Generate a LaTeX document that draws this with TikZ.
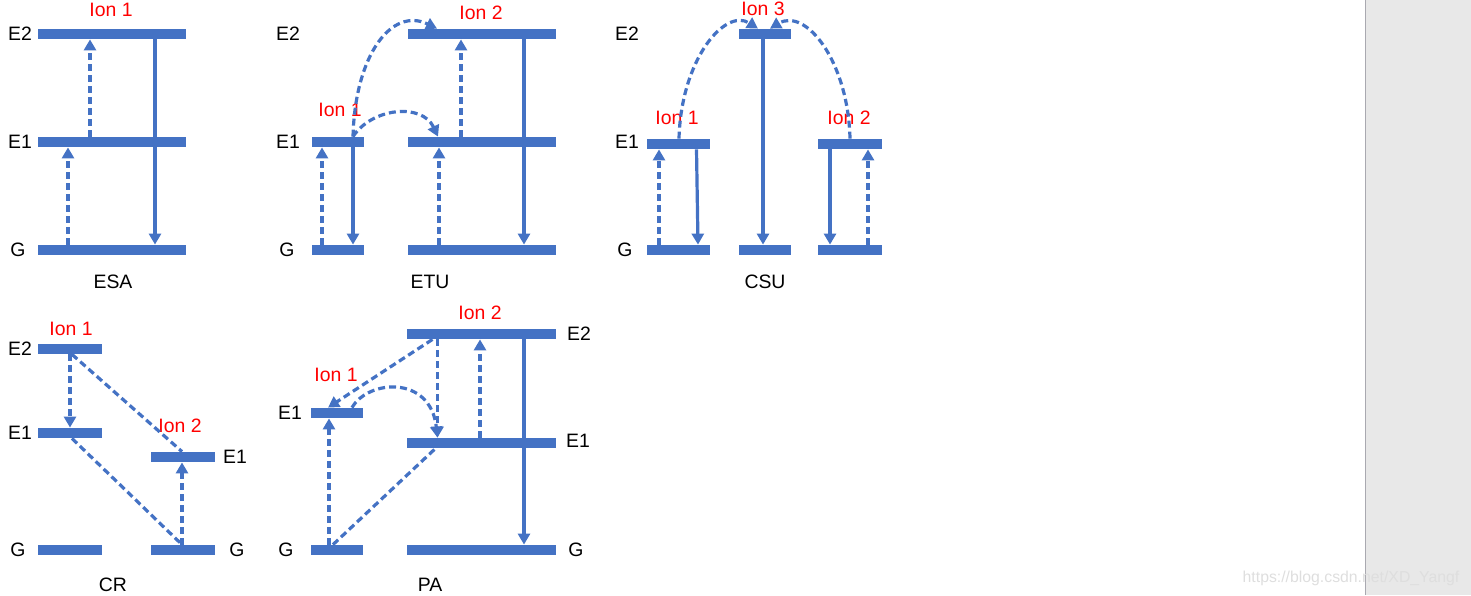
\documentclass[tikz,border=0pt]{standalone}
\usepackage{fontspec}
\setmainfont{Liberation Sans}
\usetikzlibrary{arrows.meta,calc}
\definecolor{lvl}{HTML}{4472C4}
\definecolor{ionred}{HTML}{FF0000}
\definecolor{side}{HTML}{E8E8E8}
\definecolor{sideline}{HTML}{A9A9B0}
\definecolor{wmark}{HTML}{DEDEDE}
\begin{document}
\begin{tikzpicture}[x=0.5pt,y=-0.5pt,
  lev/.style={fill=lvl, rectangle, inner sep=0pt, minimum height=5pt, minimum width=#1*0.5pt},
  lbl/.style={font=\fontsize{9.7pt}{11pt}\selectfont, inner sep=0pt},
  ion/.style={lbl, text=ionred},
  tip/.style={-{Triangle[width=6pt,length=5.5pt]}},
  exc/.style={draw=lvl, line width=1.6pt, dash pattern=on 3.5pt off 2pt, tip},
  dline/.style={draw=lvl, line width=1.6pt, dash pattern=on 3.5pt off 2pt},
  emit/.style={draw=lvl, line width=1.6pt, tip}]
\useasboundingbox (0,0) rectangle (1471,595);
% sidebar
\fill[side] (1365,0) rectangle (1471,595);
\draw[sideline, line width=0.6pt] (1365.5,0) -- (1365.5,595);
\node[lbl, font=\fontsize{7.9pt}{9pt}\selectfont, text=wmark] (wm) at (1351,578) {https://blog.csdn.net/XD\_Yangf};

% ---------------- levels ----------------
% ESA
\node[lev=148] (esaE2) at (112,34) {};
\node[lev=148] (esaE1) at (112,142) {};
\node[lev=148] (esaG) at (112,250) {};
% ETU
\node[lev=52] (etuE1a) at (338,142) {};
\node[lev=52] (etuGa) at (338,250) {};
\node[lev=148] (etuE2b) at (482,34) {};
\node[lev=148] (etuE1b) at (482,142) {};
\node[lev=148] (etuGb) at (482,250) {};
% CSU
\node[lev=63] (csuE1a) at (678.5,144) {};
\node[lev=63] (csuGa) at (678.5,250) {};
\node[lev=52] (csuE2c) at (765,34) {};
\node[lev=52] (csuGc) at (765,250) {};
\node[lev=64] (csuE1b) at (850,144) {};
\node[lev=64] (csuGb) at (850,250) {};
% CR
\node[lev=64] (crE2a) at (70,349) {};
\node[lev=64] (crE1a) at (70,433) {};
\node[lev=64] (crGa) at (70,550) {};
\node[lev=64] (crE1b) at (183,457) {};
\node[lev=64] (crGb) at (183,550) {};
% PA
\node[lev=52] (paE1a) at (337,413) {};
\node[lev=52] (paGa) at (337,550) {};
\node[lev=149] (paE2b) at (481.5,334) {};
\node[lev=149] (paE1b) at (481.5,443) {};
\node[lev=149] (paGb) at (481.5,550) {};

% ---------------- labels ----------------
\node[lbl] (tEsaE2) at (20,34) {E2};
\node[lbl] (tEsaE1) at (20,142) {E1};
\node[lbl] (tEsaG) at (18,250) {G};
\node[ion] (tEsaI1) at (111,10) {Ion 1};
\node[lbl] (tEsa) at (113,282) {ESA};

\node[lbl] (tEtuE2) at (288,34) {E2};
\node[lbl] (tEtuE1) at (288,142) {E1};
\node[lbl] (tEtuG) at (287,250) {G};
\node[ion] (tEtuI1) at (340,110) {Ion 1};
\node[ion] (tEtuI2) at (481,13) {Ion 2};
\node[lbl] (tEtu) at (430,282) {ETU};

\node[lbl] (tCsuE2) at (627,34) {E2};
\node[lbl] (tCsuE1) at (627,142) {E1};
\node[lbl] (tCsuG) at (625,250) {G};
\node[ion] (tCsuI1) at (677,118) {Ion 1};
\node[ion] (tCsuI2) at (849,118) {Ion 2};
\node[ion] (tCsuI3) at (763,9) {Ion 3};
\node[lbl] (tCsu) at (765,282) {CSU};

\node[lbl] (tCrE2) at (20,349) {E2};
\node[lbl] (tCrE1) at (20,433) {E1};
\node[lbl] (tCrG) at (18,550) {G};
\node[lbl] (tCrE1r) at (235,457) {E1};
\node[lbl] (tCrGr) at (237,550) {G};
\node[ion] (tCrI1) at (71,329) {Ion 1};
\node[ion] (tCrI2) at (180,426) {Ion 2};
\node[lbl] (tCr) at (113,585) {CR};

\node[lbl] (tPaE1) at (290,413) {E1};
\node[lbl] (tPaG) at (286,550) {G};
\node[lbl] (tPaE2r) at (579,334) {E2};
\node[lbl] (tPaE1r) at (578,441) {E1};
\node[lbl] (tPaGr) at (576,550) {G};
\node[ion] (tPaI1) at (336,375) {Ion 1};
\node[ion] (tPaI2) at (480,313) {Ion 2};
\node[lbl] (tPa) at (430,585) {PA};

% ---------------- transitions ----------------
% ESA
\draw[exc] ($(esaG.north)+(-44,0)$) -- ($(esaE1.south)+(-44,0)$);
\draw[exc] ($(esaE1.north)+(-22,0)$) -- ($(esaE2.south)+(-22,0)$);
\draw[emit] ($(esaE2.south)+(43,0)$) -- ($(esaG.north)+(43,0)$);
% ETU
\draw[exc] ($(etuGa.north)+(-16,0)$) -- ($(etuE1a.south)+(-16,0)$);
\draw[emit] ($(etuE1a.south)+(15,0)$) -- ($(etuGa.north)+(15,0)$);
\draw[exc] ($(etuGb.north)+(-43,0)$) -- ($(etuE1b.south)+(-43,0)$);
\draw[exc] ($(etuE1b.north)+(-21,0)$) -- ($(etuE2b.south)+(-21,0)$);
\draw[emit] ($(etuE2b.south)+(42,0)$) -- ($(etuGb.north)+(42,0)$);
\draw[exc] ($(etuE1a.north)+(15,0)$) .. controls +(2,-82) and +(-45,-22) .. ($(etuE2b.north)+(-45,0)$);
\draw[exc] ($(etuE1a.north)+(15,0)$) .. controls +(19,-29) and +(-16,-34) .. ($(etuE1b.north)+(-44,0)$);
% CSU
\draw[exc] ($(csuGa.north)+(-19.5,0)$) -- ($(csuE1a.south)+(-19.5,0)$);
\draw[emit] ($(csuE1a.south)+(18,0)$) -- ($(csuGa.north)+(19.5,0)$);
\draw[emit] ($(csuE2c.south)+(-2,0)$) -- ($(csuGc.north)+(-2,0)$);
\draw[emit] ($(csuE1b.south)+(-20,0)$) -- ($(csuGb.north)+(-20,0)$);
\draw[exc] ($(csuGb.north)+(18,0)$) -- ($(csuE1b.south)+(18,0)$);
\draw[exc] ($(csuE1a.north)+(0.5,0)$) .. controls +(2,-79) and +(-33,-21) .. ($(csuE2c.north)+(-7,0)$);
\draw[exc] (csuE1b.north) .. controls +(-2,-79) and +(35,-21) .. ($(csuE2c.north)+(5,0)$);
% CR
\draw[exc] (crE2a.south) -- (crE1a.north);
\draw[dline] ($(crE2a.south)+(2,0)$) -- ($(crE1b.north)+(-1,0)$);
\draw[dline] ($(crE1a.south)+(2,0)$) -- ($(crGb.north)+(-1,0)$);
\draw[exc] ($(crGb.north)+(-1,0)$) -- ($(crE1b.south)+(-1,0)$);
% PA
\draw[exc] ($(paGa.north)+(-8,0)$) -- ($(paE1a.south)+(-8,0)$);
\draw[dline] ($(paGa.north)+(-4,0)$) -- ($(paE1b.south)+(-46,0)$);
\draw[exc] ($(paE2b.south)+(-49,0)$) -- ($(paE1a.north)+(-9,0)$);
\draw[exc] ($(paE1a.north)+(15,0)$) .. controls +(16,-28) and +(-7,-63) .. ($(paE1b.north)+(-44,0)$);
\draw[exc] ($(paE2b.south)+(-44,0)$) -- ($(paE1b.north)+(-44,0)$);
\draw[exc] ($(paE1b.north)+(-1.5,0)$) -- ($(paE2b.south)+(-1.5,0)$);
\draw[emit] ($(paE2b.south)+(42.5,0)$) -- ($(paGb.north)+(42.5,0)$);
\end{tikzpicture}
\end{document}
